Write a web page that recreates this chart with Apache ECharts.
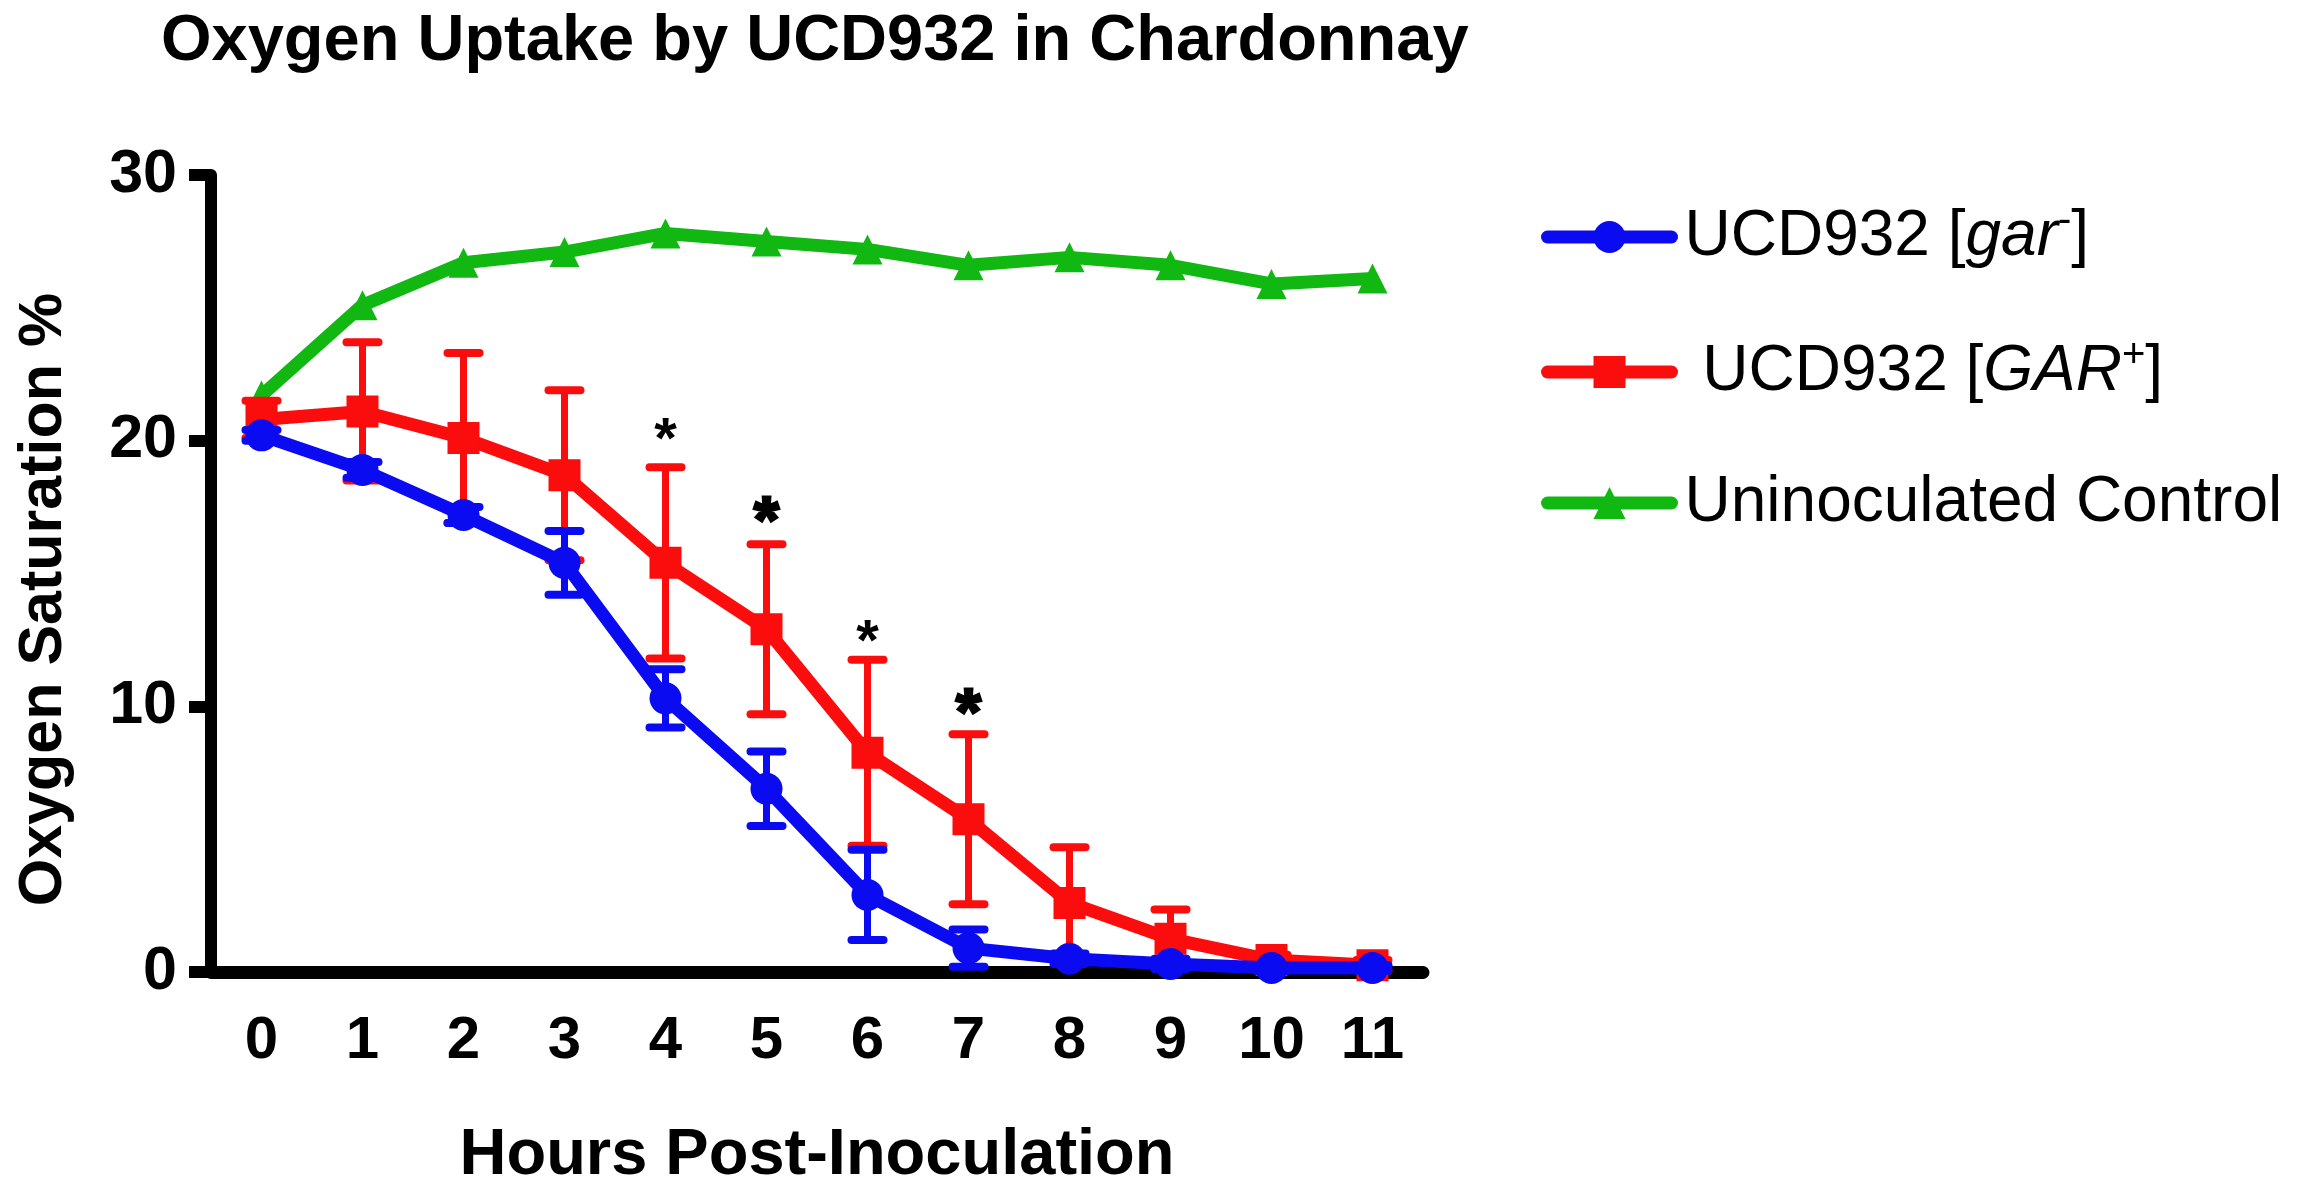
<!DOCTYPE html>
<html>
<head>
<meta charset="utf-8">
<title>Oxygen Uptake by UCD932 in Chardonnay</title>
<script src="https://cdn.jsdelivr.net/npm/echarts@6/dist/echarts.min.js"></script>
<style>
  html, body { margin: 0; padding: 0; background: #fff; }
  #chart { width: 2298px; height: 1194px; }
</style>
</head>
<body>
<div id="chart"></div>
<script>
// x categories (hours)
const hours = ['0', '1', '2', '3', '4', '5', '6', '7', '8', '9', '10', '11'];

// UCD932 [gar-] mean and SD
const garMinus    = [20.2, 18.9, 17.2, 15.4, 10.3, 6.9, 2.9, 0.9, 0.5, 0.3, 0.15, 0.15];
const garMinusErr = [0.2, 0.3, 0.3, 1.2, 1.1, 1.4, 1.7, 0.7, 0.2, 0.2, 0.1, 0.1];

// UCD932 [GAR+] mean and SD
const garPlus    = [20.8, 21.1, 20.1, 18.7, 15.4, 12.9, 8.25, 5.75, 2.6, 1.25, 0.45, 0.25];
const garPlusErr = [0.7, 2.6, 3.2, 3.2, 3.6, 3.2, 3.5, 3.2, 2.1, 1.1, 0.2, 0.2];

// uninoculated control
const control = [21.7, 25.1, 26.7, 27.1, 27.8, 27.5, 27.2, 26.6, 26.9, 26.6, 25.9, 26.1];

// significance marks
const starHours = ['4', '5', '6', '7'];
const starY     = [20.5, 17.4, 12.9, 10.2];
const starBold  = [0, 1, 0, 1];

const yTicks = [0, 10, 20, 30];

const BLUE = '#0b0bf2';
const RED = '#fb0d0d';
const GREEN = '#12b812';
const FONT = '"Liberation Sans", Arial, Helvetica, sans-serif';

let myChart = echarts.init(document.getElementById('chart'));

// error bar series (vertical line with caps), drawn through the axes
function errorBars(vals, errs, color, z) {
  return {
    type: 'custom',
    z: z,
    silent: true,
    data: vals.map((v, i) => [i, v - errs[i], v + errs[i]]),
    encode: { x: 0, y: [1, 2] },
    renderItem: function (params, api) {
      const x = api.value(0);
      const lo = api.coord([x, api.value(1)]);
      const hi = api.coord([x, api.value(2)]);
      const w = 16;
      const capStyle = { stroke: color, lineWidth: 8, lineCap: 'round' };
      return {
        type: 'group',
        children: [
          { type: 'line', shape: { x1: lo[0], y1: lo[1], x2: hi[0], y2: hi[1] }, style: { stroke: color, lineWidth: 7 } },
          { type: 'line', shape: { x1: hi[0] - w, y1: hi[1], x2: hi[0] + w, y2: hi[1] }, style: capStyle },
          { type: 'line', shape: { x1: lo[0] - w, y1: lo[1], x2: lo[0] + w, y2: lo[1] }, style: capStyle }
        ]
      };
    }
  };
}

const legendText = {
  'gar': '{n|UCD932 [}{i|gar}{s|-}{n|]}',
  'GAR': '{n| UCD932 [}{i|GAR}{s|+}{n|]}',
  'Control': '{n|Uninoculated Control}'
};

const option = {
  backgroundColor: '#fff',
  animation: false,
  title: {
    text: 'Oxygen Uptake by UCD932 in Chardonnay',
    left: 161,
    top: 10,
    padding: 0,
    textStyle: { fontFamily: FONT, fontSize: 65, fontWeight: 'bold', color: '#000' }
  },
  legend: {
    orient: 'vertical',
    left: 1536,
    top: 196,
    itemWidth: 124,
    itemHeight: 40,
    itemGap: 67,
    data: ['gar', 'GAR', 'Control'],
    formatter: name => legendText[name],
    lineStyle: { width: 13, cap: 'round' },
    textStyle: {
      color: '#000',
      fontFamily: FONT,
      fontSize: 64,
      padding: [0, 0, 0, 8],
      rich: {
        n: { fontFamily: FONT, fontSize: 64, lineHeight: 72, color: '#000' },
        i: { fontFamily: FONT, fontSize: 64, lineHeight: 72, fontStyle: 'italic', color: '#000' },
        s: { fontFamily: FONT, fontSize: 40, lineHeight: 40, verticalAlign: 'top', color: '#000' }
      }
    }
  },
  grid: { left: 211, right: 875, top: 175, bottom: 206, containLabel: false },
  xAxis: {
    type: 'category',
    data: hours,
    boundaryGap: true,
    name: 'Hours Post-Inoculation',
    nameLocation: 'middle',
    nameGap: 152,
    nameTextStyle: { fontFamily: FONT, fontSize: 65, fontWeight: 'bold', color: '#000' },
    axisLine: { lineStyle: { color: '#000', width: 13 } },
    axisTick: { alignWithLabel: true, length: 20, lineStyle: { color: '#000', width: 11 } },
    axisLabel: { margin: 39, fontFamily: FONT, fontSize: 60, fontWeight: 'bold', color: '#000' },
    splitLine: { show: false }
  },
  yAxis: {
    type: 'value',
    min: 0,
    max: 30,
    interval: 10,
    name: 'Oxygen Saturation %',
    nameLocation: 'middle',
    nameRotate: 90,
    nameGap: 136,
    nameTextStyle: {
      fontFamily: FONT, fontSize: 61, fontWeight: 'bold', color: '#000',
      padding: [0, 52, 0, 0]
    },
    axisLine: { show: true, lineStyle: { color: '#000', width: 12 } },
    axisTick: { show: true, length: 22, lineStyle: { color: '#000', width: 12 } },
    axisLabel: {
      margin: 34, fontFamily: FONT, fontSize: 61, fontWeight: 'bold', color: '#000',
      formatter: v => (yTicks.indexOf(v) >= 0 ? String(v) : '')
    },
    splitLine: { show: false }
  },
  series: [
    {
      name: 'Control',
      type: 'line',
      z: 1,
      data: control,
      symbol: 'triangle',
      symbolSize: 30,
      lineStyle: { color: GREEN, width: 13 },
      itemStyle: { color: GREEN }
    },
    errorBars(garPlus, garPlusErr, RED, 2),
    {
      name: 'GAR',
      type: 'line',
      z: 3,
      data: garPlus,
      symbol: 'rect',
      symbolSize: 32,
      lineStyle: { color: RED, width: 13 },
      itemStyle: { color: RED }
    },
    errorBars(garMinus, garMinusErr, BLUE, 4),
    {
      name: 'gar',
      type: 'line',
      z: 5,
      data: garMinus,
      symbol: 'circle',
      symbolSize: 32,
      lineStyle: { color: BLUE, width: 13 },
      itemStyle: { color: BLUE }
    },
    {
      type: 'custom',
      z: 6,
      silent: true,
      data: starHours.map((h, i) => [h, starY[i], starBold[i]]),
      encode: { x: 0, y: 1 },
      renderItem: function (params, api) {
        const p = api.coord([api.value(0), api.value(1)]);
        const bold = api.value(2) === 1;
        return {
          type: 'text',
          style: {
            text: '*',
            x: p[0],
            y: p[1] + 15,
            align: 'center',
            verticalAlign: 'middle',
            fontFamily: FONT,
            fontSize: bold ? 64 : 58,
            fontWeight: 'bold',
            fill: '#000',
            stroke: bold ? '#000' : null,
            lineWidth: bold ? 3 : 0
          }
        };
      }
    }
  ]
};

myChart.setOption(option);
window.onresize = function () {
  myChart.resize();
};
</script>
</body>
</html>
